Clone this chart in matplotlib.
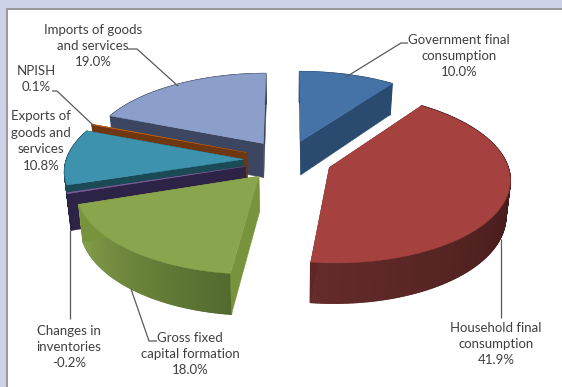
import numpy as np
import matplotlib
matplotlib.use('Agg')
import matplotlib.pyplot as plt
from matplotlib.collections import PolyCollection
from matplotlib.patches import Polygon, Rectangle

# share of GDP by expenditure component, clockwise from 12 o'clock
components = ['Government final\nconsumption', 'Household final\nconsumption',
              'Gross fixed\ncapital formation', 'Changes in\ninventories',
              'Exports of\ngoods and\nservices', 'NPISH',
              'Imports of goods\nand services']
shares = [10.0, 41.9, 18.0, -0.2, 10.8, 0.1, 19.0]

top_colors = ['#4573a7', '#a54240', '#89a54e', '#8064a2', '#3d92ad', '#c0651c', '#8c9fca']
# outer wall colours at the start and end of each slice
wall_from = ['#2b4a70', '#2f0f0f', '#526a2e', '#2d2347', '#1b4a57', '#6e3712', '#3c4660']
wall_to = ['#2b4a70', '#642c2b', '#86a04a', '#2d2347', '#1b4a57', '#6e3712', '#3c4660']
side_colors = ['#2b4a70', '#5e2725', '#77933c', '#2d2347', '#1b4a57', '#6e3712', '#3c4660']

label_x = [459, 496, 190, 69, 41, 36, 93]
label_y = [56, 344, 354, 347, 141, 79, 46]

# leader lines, pixel coordinates
leaders = [
    [(408, 43), (401, 43), (346, 77)],
    [(501, 318), (501, 239)],
    [(157, 341), (149, 341), (131, 289)],
    [(70, 319), (70, 230)],
    [(52, 91), (57, 91), (93, 125)],
    [(128, 49), (137, 49), (178, 86)],
]

# pie geometry in pixels
CX, CY = 287.6, 160
RX, RY = 177, 82
PERSP = 0.12
EXPLODE = 0.25
DEPTH = 35
TEXT_COLOR = '#404040'


def project(x, y):
    s = 1 / (1 + PERSP * y)
    return CX + RX * x * s, CY - RY * y * s, s


def drop(px, py, s):
    # the same point on the underside of the pie
    return CX + (px - CX) * 0.98, py + DEPTH * s


def slice_points(start, end):
    mid = (start + end) / 2
    ox = EXPLODE * np.sin(mid)
    oy = EXPLODE * np.cos(mid)
    theta = np.linspace(start, end, max(int(np.degrees(end - start)) * 2, 3))
    rim = project(ox + np.sin(theta), oy + np.cos(theta))
    apex = project(ox, oy)
    return theta, rim, apex


def draw_slice(ax, start, end, top, c_from, c_to, side):
    theta, (rx, ry, rs), (ax0, ay0, as0) = slice_points(start, end)
    bx, by = drop(rx, ry, rs)
    abx, aby = drop(ax0, ay0, as0)

    # outer wall, shaded along the arc
    frac = np.linspace(0, 1, len(theta) - 1)
    c0 = np.array(matplotlib.colors.to_rgb(c_from))
    c1 = np.array(matplotlib.colors.to_rgb(c_to))
    quads = [[(rx[i], ry[i]), (rx[i + 1], ry[i + 1]), (bx[i + 1], by[i + 1]), (bx[i], by[i])]
             for i in range(len(theta) - 1)]
    colors = [c0 + (c1 - c0) * f for f in frac]
    ax.add_collection(PolyCollection(quads, facecolors=colors, edgecolors=colors, linewidths=1.0))

    # the two cut faces
    for i in (0, -1):
        ax.add_patch(Polygon([(ax0, ay0), (rx[i], ry[i]), (bx[i], by[i]), (abx, aby)],
                             facecolor=side, edgecolor=side, linewidth=0.3))

    ax.add_patch(Polygon([(ax0, ay0)] + list(zip(rx, ry)), facecolor=top, edgecolor=top,
                         linewidth=0.3))


fig = plt.figure(figsize=(5.62, 3.87), dpi=100)
plt.rcParams['font.family'] = ['Lato', 'DejaVu Sans']
ax = fig.add_axes([0, 0, 1, 1])
ax.set_xlim(0, 562)
ax.set_ylim(387, 0)
ax.axis('off')

# window frame behind the chart
ax.add_patch(Rectangle((0, 0), 562, 387, facecolor='#cdd1ea', edgecolor='none'))
ax.add_patch(Rectangle((6, 8), 556, 379, facecolor='#9a9a9a', edgecolor='none'))
ax.add_patch(Rectangle((7.5, 9.5), 555, 378, facecolor='white', edgecolor='none'))

sizes = np.abs(shares)
edges = np.concatenate([[0], np.cumsum(sizes)]) / sizes.sum() * 2 * np.pi

# painter's order: back slices first, front ones last
draw_order = [0, 6, 5, 4, 3, 2, 1]
for i in draw_order:
    draw_slice(ax, edges[i], edges[i + 1], top_colors[i], wall_from[i], wall_to[i], side_colors[i])

for path in leaders:
    xs, ys = zip(*path)
    ax.plot(xs, ys, color='#595959', lw=0.9, solid_capstyle='butt')

for name, val, x, y in zip(components, shares, label_x, label_y):
    ax.text(x, y, f'{name}\n{val:.1f}%', ha='center', va='center', fontsize=9.5,
            color=TEXT_COLOR, linespacing=1.44)

fig.savefig('out.png', dpi=100)
